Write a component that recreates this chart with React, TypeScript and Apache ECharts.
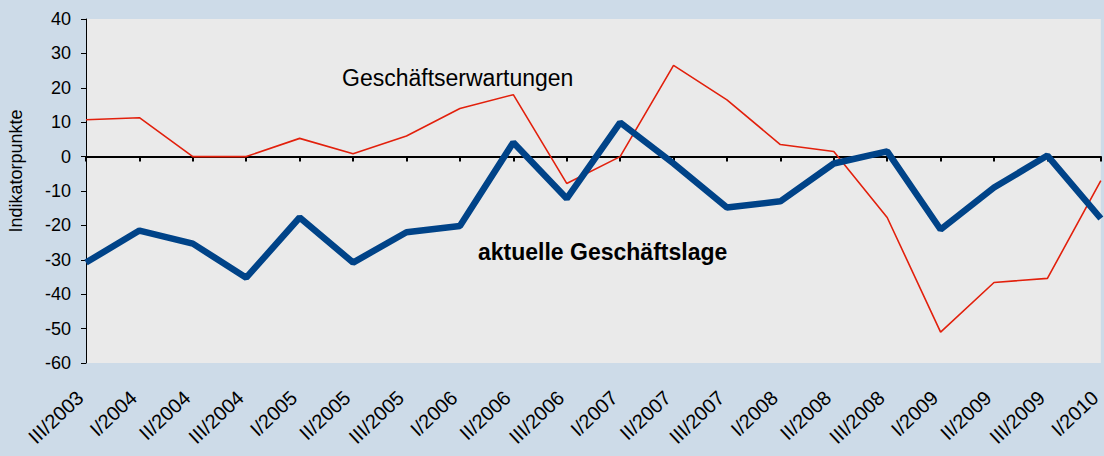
import React, { useEffect, useRef } from "react";
import * as echarts from "echarts";

const categories = [
  "III/2003", "I/2004", "II/2004", "III/2004", "I/2005", "II/2005", "III/2005",
  "I/2006", "II/2006", "III/2006", "I/2007", "II/2007", "III/2007", "I/2008",
  "II/2008", "III/2008", "I/2009", "II/2009", "III/2009", "I/2010",
];

const geschaeftslage = [
  -30.8, -21.5, -25.3, -35.2, -17.7, -30.8, -22, -20.2, 4.1, -12.2,
  9.9, -2, -14.8, -13, -2, 1.5, -21.2, -9, 0.3, -18,
];

const erwartungen = [
  10.7, 11.3, 0, 0, 5.3, 0.8, 6, 14, 18, -7.8,
  0, 26.5, 16.5, 3.5, 1.5, -17.7, -51, -36.6, -35.4, -7,
];

const FONT = "'Liberation Sans', Arial, sans-serif";

export default function App() {
  const ref = useRef<HTMLDivElement>(null);
  useEffect(() => {
    if (!ref.current) return;
    const chart = echarts.init(ref.current, undefined, { renderer: "svg" });
    chart.setOption({
      animation: false,
      backgroundColor: "#cddbe8",
      textStyle: { fontFamily: FONT },
      grid: {
        left: 86,
        right: 3,
        top: 19,
        bottom: 93,
        show: true,
        backgroundColor: "#eaeaea",
        borderWidth: 0,
      },
      xAxis: [
        {
          type: "category",
          data: categories,
          boundaryGap: false,
          axisLine: { onZero: true, lineStyle: { color: "#000", width: 2 } },
          axisTick: { show: true, length: 5, lineStyle: { color: "#000", width: 2 } },
          axisLabel: { show: false },
          splitLine: { show: false },
        },
        {
          type: "category",
          data: categories,
          boundaryGap: false,
          position: "bottom",
          axisLine: { show: false, onZero: false },
          axisTick: { show: false },
          axisLabel: {
            show: true,
            rotate: 43,
            interval: 0,
            margin: 26,
            padding: [0, 8, 0, 0],
            fontSize: 20,
            color: "#000",
            fontFamily: FONT,
          },
          splitLine: { show: false },
        },
      ],
      yAxis: {
        type: "value",
        min: -60,
        max: 40,
        interval: 10,
        axisLine: { show: true, lineStyle: { color: "#000", width: 1 } },
        axisTick: { show: true, length: 5, lineStyle: { color: "#000" } },
        axisLabel: { fontSize: 18, color: "#000", margin: 15, fontFamily: FONT },
        splitLine: { show: false },
      },
      series: [
        {
          name: "Geschäftserwartungen",
          type: "line",
          data: erwartungen,
          xAxisIndex: 0,
          symbol: "none",
          lineStyle: { color: "#e2200c", width: 1.6 },
          z: 3,
        },
        {
          name: "aktuelle Geschäftslage",
          type: "line",
          data: geschaeftslage,
          xAxisIndex: 0,
          symbol: "none",
          lineStyle: { color: "#004388", width: 6.5 },
          z: 4,
        },
      ],
      graphic: [
        {
          type: "text",
          x: 16,
          y: 171,
          rotation: Math.PI / 2,
          style: {
            text: "Indikatorpunkte",
            font: `18px ${FONT}`,
            fill: "#000",
            textAlign: "center",
            textVerticalAlign: "middle",
          },
        },
        {
          type: "text",
          left: 342,
          top: 66,
          style: {
            text: "Geschäftserwartungen",
            font: `23px ${FONT}`,
            fill: "#000",
          },
        },
        {
          type: "text",
          left: 478,
          top: 240,
          style: {
            text: "aktuelle Geschäftslage",
            font: `bold 23px ${FONT}`,
            fill: "#000",
          },
        },
      ],
    });
    return () => chart.dispose();
  }, []);
  return <div ref={ref} style={{ width: 1104, height: 456, position: "absolute", left: 0, top: 0 }} />;
}
